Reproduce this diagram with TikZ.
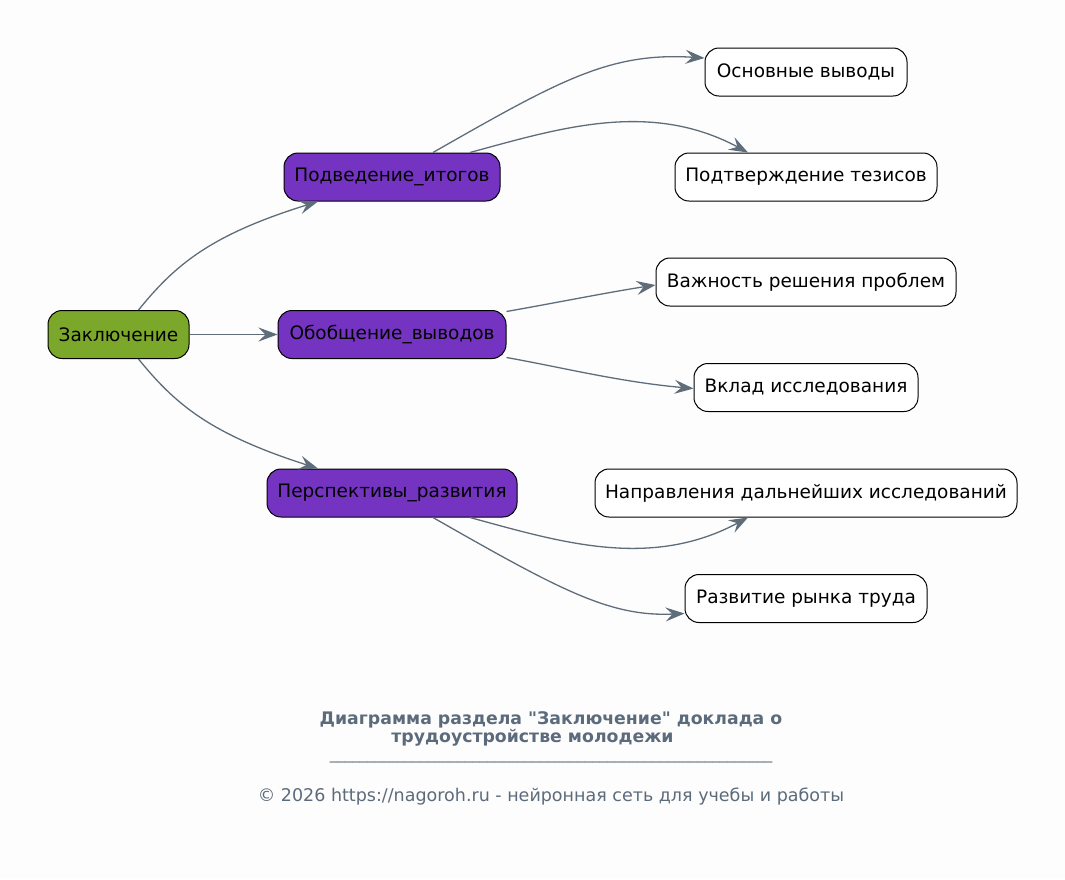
\documentclass[tikz,border=0pt]{standalone}
\usepackage{fontspec}
\setmainfont{DejaVu Sans}[Ligatures=TeXOff]
\usetikzlibrary{arrows.meta}
\definecolor{bg}{HTML}{FDFDFD}
\definecolor{rootc}{HTML}{7BA82B}
\definecolor{midc}{HTML}{7533C2}
\definecolor{edgec}{HTML}{5F6D7B}
\definecolor{capc}{HTML}{5C6B7B}
\tikzset{
  box/.style={draw=black, line width=1pt, rounded corners=14pt, minimum height=48pt, inner xsep=8pt, font=\fontsize{18.5}{22}\selectfont, text=black},
  rootbox/.style={box, fill=rootc},
  midbox/.style={box, fill=midc},
  leafbox/.style={box, fill=white},
  conn/.style={draw=edgec, line width=1.3pt, -{Stealth[length=19pt,width=14pt,inset=7pt]}},
}
\begin{document}
\begin{tikzpicture}[x=1pt,y=-1pt]
\fill[bg] (0,0) rectangle (1065,879);
\useasboundingbox (0,0) rectangle (1065,879);
\node[rootbox, minimum width=141pt] (r) at (118.5,334.5) {Заключение};
\node[midbox, minimum width=216pt] (p1) at (392,177) {Подведение\_итогов};
\node[midbox, minimum width=228pt] (p2) at (392,334.5) {Обобщение\_выводов};
\node[midbox, minimum width=250pt] (p3) at (392,493) {Перспективы\_развития};
\node[leafbox, minimum width=202pt] (l1) at (806,72) {Основные выводы};
\node[leafbox, minimum width=262pt] (l2) at (806,177) {Подтверждение тезисов};
\node[leafbox, minimum width=300pt] (l3) at (806,282) {Важность решения проблем};
\node[leafbox, minimum width=224pt] (l4) at (806,387.5) {Вклад исследования};
\node[leafbox, minimum width=422pt] (l5) at (806,493) {Направления дальнейших исследований};
\node[leafbox, minimum width=242pt] (l6) at (806,598.5) {Развитие рынка труда};

\path[conn] ([xshift=20pt]r.north) .. controls (175,265) and (210,235) .. ([xshift=-74pt]p1.south);
\path[conn] (r.east) -- (p2.west);
\path[conn] ([xshift=20pt]r.south) .. controls (175,404) and (210,434) .. ([xshift=-74pt]p3.north);

\path[conn] ([xshift=41pt]p1.north) .. controls (560,80) and (610,52) .. ([yshift=14pt]l1.west);
\path[conn] ([xshift=78pt]p1.north) .. controls (560,128) and (650,100) .. ([xshift=-58pt]l2.north);
\path[conn] ([yshift=23pt]p2.east) .. controls (560,302) and (610,292) .. ([yshift=-3pt]l3.west);
\path[conn] ([yshift=-23pt]p2.east) .. controls (560,367) and (620,382) .. ([yshift=-1pt]l4.west);
\path[conn] ([xshift=78pt]p3.south) .. controls (560,542) and (650,570) .. ([xshift=-58pt]l5.south);
\path[conn] ([xshift=41pt]p3.south) .. controls (560,590) and (610,617) .. ([yshift=-15pt]l6.west);

\node[text=capc, font=\bfseries\fontsize{17.3}{18}\selectfont, align=center] (cap) at (551,729) {Диаграмма раздела "Заключение" доклада о\\трудоустройстве молодежи\hspace*{37pt}};
\node[text=capc, font=\fontsize{15}{18}\selectfont] (rule) at (551,761) {\_\_\_\_\_\_\_\_\_\_\_\_\_\_\_\_\_\_\_\_\_\_\_\_\_\_\_\_\_\_\_\_\_\_\_\_\_\_\_\_\_\_\_\_\_\_\_\_\_\_\_\_\_\_\_\_\_\_\_};
\node[text=capc, font=\fontsize{17.5}{20}\selectfont] (foot) at (551,797) {© 2026 https://nagoroh.ru - нейронная сеть для учебы и работы};
\end{tikzpicture}
\end{document}
